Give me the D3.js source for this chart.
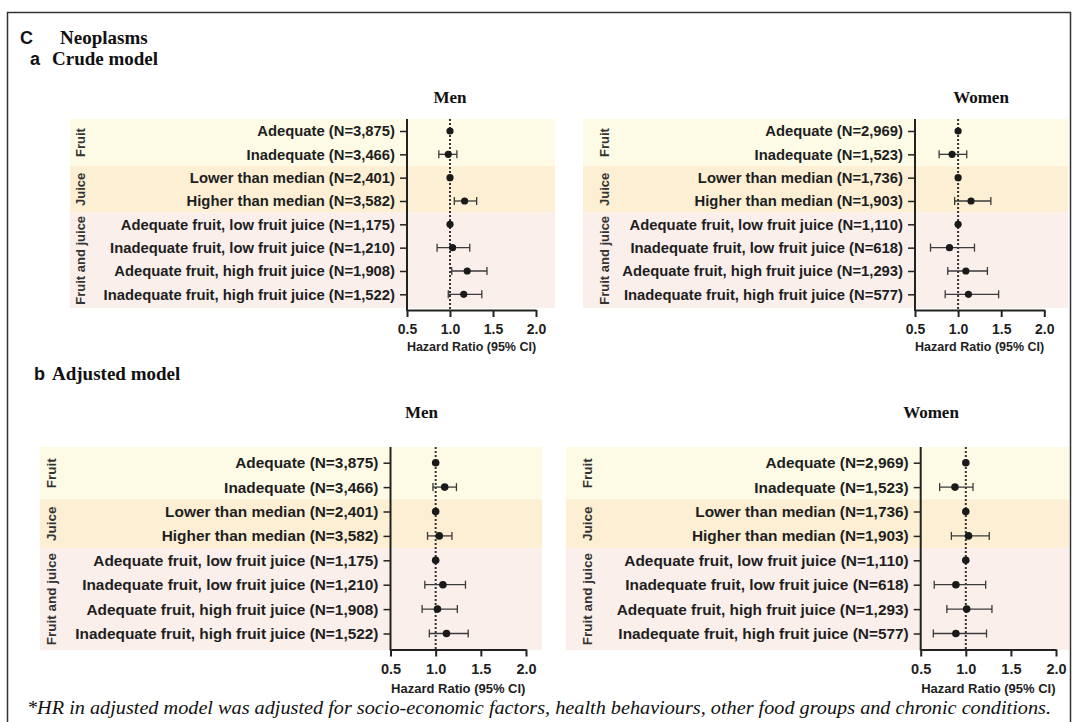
<!DOCTYPE html>
<html>
<head>
<meta charset="utf-8">
<script src="https://cdn.jsdelivr.net/npm/d3@7"></script>
<style>
  body { margin: 0; background: #fff; }
  svg { display: block; }
</style>
</head>
<body>
<svg id="chart" width="1078" height="722"></svg>
<script>
// ---- data ----
const groupNames = ["Fruit", "Juice", "Fruit and juice"];
const rowGroup = [0, 0, 1, 1, 2, 2, 2, 2];
const rowNames = [
  "Adequate", "Inadequate",
  "Lower than median", "Higher than median",
  "Adequate fruit, low fruit juice", "Inadequate fruit, low fruit juice",
  "Adequate fruit, high fruit juice", "Inadequate fruit, high fruit juice"
];
const menN = ["3,875", "3,466", "2,401", "3,582", "1,175", "1,210", "1,908", "1,522"];
const womenN = ["2,969", "1,523", "1,736", "1,903", "1,110", "618", "1,293", "577"];
const hrTicks = [0.5, 1.0, 1.5, 2.0];

// crude model: hazard ratio and 95% CI (null = reference group)
const crudeMenHR   = [1.00, 0.98, 1.00, 1.17, 1.00, 1.03, 1.20, 1.16];
const crudeMenLow  = [null, 0.87, null, 1.05, null, 0.85, 1.02, 0.98];
const crudeMenHigh = [null, 1.08, null, 1.31, null, 1.23, 1.43, 1.37];
const crudeWomenHR   = [1.00, 0.93, 1.00, 1.15, 1.00, 0.90, 1.09, 1.12];
const crudeWomenLow  = [null, 0.78, null, 0.96, null, 0.68, 0.88, 0.85];
const crudeWomenHigh = [null, 1.10, null, 1.38, null, 1.19, 1.34, 1.47];

// adjusted model
const adjMenHR   = [1.00, 1.10, 1.00, 1.04, 1.00, 1.08, 1.02, 1.12];
const adjMenLow  = [null, 0.97, null, 0.91, null, 0.88, 0.85, 0.93];
const adjMenHigh = [null, 1.23, null, 1.18, null, 1.33, 1.24, 1.36];
const adjWomenHR   = [1.00, 0.88, 1.00, 1.03, 1.00, 0.89, 1.01, 0.89];
const adjWomenLow  = [null, 0.71, null, 0.84, null, 0.65, 0.79, 0.64];
const adjWomenHigh = [null, 1.08, null, 1.26, null, 1.22, 1.29, 1.23];

// ---- styling ----
const bandColors = ["#fdfbe6", "#fcefd4", "#fbefeb"];
const SANS = "'Liberation Sans', Arial, sans-serif";
const SERIF = "'Liberation Serif', 'Times New Roman', serif";
const INK = "#222";

const svg = d3.select("#chart");

// outer frame
svg.append("rect")
  .attr("x", 7.5).attr("y", 12.5)
  .attr("width", 1063).attr("height", 720)
  .attr("fill", "none").attr("stroke", "#333").attr("stroke-width", 1.5);

// headings: sans letter followed by serif caption
function heading(xLetter, xText, y, letter, text, size) {
  svg.append("text").attr("x", xLetter).attr("y", y)
    .attr("font-family", SANS).attr("font-weight", "bold")
    .attr("font-size", size - 1).attr("fill", "#111").text(letter);
  svg.append("text").attr("x", xText).attr("y", y)
    .attr("font-family", SERIF).attr("font-weight", "bold")
    .attr("font-size", size).attr("fill", "#111").text(text);
}
heading(20, 60, 43.5, "C", "Neoplasms", 19);
heading(30, 52, 65, "a", "Crude model", 19);
heading(34, 52, 380, "b", "Adjusted model", 19);

// one forest plot panel
function drawPanel(cfg, hr, low, high, nVals) {
  const g = svg.append("g");
  const rows = d3.range(rowNames.length);
  const x = d3.scaleLinear().domain([0.5, 2.0]).range([cfg.x0, cfg.x1]);
  const y = d3.scalePoint().domain(rows).range([cfg.y0, cfg.y0 + cfg.step * (rows.length - 1)]);

  // group bands
  const groups = d3.range(groupNames.length).map(k => {
    const idx = rows.filter(i => rowGroup[i] === k);
    const first = idx[0], last = idx[idx.length - 1];
    const top = first === 0 ? cfg.bandTop : y(first) - cfg.step / 2;
    const bottom = last === rows.length - 1 ? cfg.bandBottom : y(last) + cfg.step / 2;
    return { k, top, bottom };
  });
  g.selectAll("rect.band").data(groups).join("rect")
    .attr("class", "band")
    .attr("x", cfg.bandL).attr("width", cfg.bandR - cfg.bandL)
    .attr("y", d => d.top).attr("height", d => d.bottom - d.top)
    .attr("fill", d => bandColors[d.k]);

  // rotated group names
  g.selectAll("text.grp").data(groups).join("text")
    .attr("class", "grp")
    .attr("transform", d => `translate(${cfg.groupX},${(d.top + d.bottom) / 2}) rotate(-90)`)
    .attr("text-anchor", "middle").attr("dy", "0.35em")
    .attr("font-family", SANS).attr("font-weight", "bold")
    .attr("font-size", cfg.groupFs).attr("fill", "#333")
    .text(d => groupNames[d.k]);

  // panel title
  g.append("text").attr("x", cfg.titleX).attr("y", cfg.titleY)
    .attr("text-anchor", "middle")
    .attr("font-family", SERIF).attr("font-weight", "bold")
    .attr("font-size", 17).attr("fill", "#111")
    .text(cfg.title);

  // row axis
  const yAxis = d3.axisLeft(y)
    .tickSize(cfg.tick).tickSizeOuter(0).tickPadding(5)
    .tickFormat(i => `${rowNames[i]} (N=${nVals[i]})`);
  const ya = g.append("g").attr("transform", `translate(${cfg.x0},0)`).call(yAxis);
  ya.select(".domain").remove();
  ya.selectAll(".tick line").attr("stroke", INK).attr("stroke-width", 1.5);
  ya.selectAll(".tick text")
    .attr("font-family", SANS).attr("font-weight", "bold")
    .attr("font-size", cfg.fs).attr("fill", "#1e1e1e");
  g.append("line")
    .attr("x1", cfg.x0).attr("x2", cfg.x0)
    .attr("y1", cfg.bandTop).attr("y2", cfg.axisY + 1)
    .attr("stroke", INK).attr("stroke-width", 2);

  // HR axis
  const xAxis = d3.axisBottom(x).tickValues(hrTicks)
    .tickFormat(d3.format(".1f")).tickSize(cfg.tick).tickSizeOuter(0).tickPadding(7);
  const xa = g.append("g").attr("transform", `translate(0,${cfg.axisY})`).call(xAxis);
  xa.select(".domain").attr("stroke", INK).attr("stroke-width", 2);
  xa.selectAll(".tick line").attr("stroke", INK).attr("stroke-width", 2);
  xa.selectAll(".tick text")
    .attr("font-family", SANS).attr("font-weight", "bold")
    .attr("font-size", cfg.tickFs).attr("fill", "#1e1e1e");
  g.append("text")
    .attr("x", (cfg.x0 + cfg.x1) / 2).attr("y", cfg.axisY + cfg.labelDy)
    .attr("text-anchor", "middle")
    .attr("font-family", SANS).attr("font-weight", "bold")
    .attr("font-size", cfg.labelFs).attr("fill", "#1e1e1e")
    .text("Hazard Ratio (95% CI)");

  // reference line at HR = 1
  g.append("line")
    .attr("x1", x(1)).attr("x2", x(1))
    .attr("y1", cfg.bandTop).attr("y2", cfg.axisY)
    .attr("stroke", "#333").attr("stroke-width", 2)
    .attr("stroke-dasharray", "2,2");

  // confidence intervals
  const ci = rows.filter(i => low[i] != null);
  const eb = g.selectAll("g.ci").data(ci).join("g").attr("class", "ci")
    .attr("stroke", "#3a3a3a").attr("stroke-width", 1.3);
  eb.append("line")
    .attr("x1", i => x(low[i])).attr("x2", i => x(high[i]))
    .attr("y1", i => y(i)).attr("y2", i => y(i));
  eb.append("line")
    .attr("x1", i => x(low[i])).attr("x2", i => x(low[i]))
    .attr("y1", i => y(i) - cfg.cap).attr("y2", i => y(i) + cfg.cap);
  eb.append("line")
    .attr("x1", i => x(high[i])).attr("x2", i => x(high[i]))
    .attr("y1", i => y(i) - cfg.cap).attr("y2", i => y(i) + cfg.cap);

  // point estimates
  g.selectAll("circle.hr").data(rows).join("circle")
    .attr("class", "hr")
    .attr("cx", i => x(hr[i])).attr("cy", i => y(i))
    .attr("r", cfg.r).attr("fill", "#1a1a1a");
}

const crudeBase = { y0: 131, step: 23.33, bandTop: 119, bandBottom: 308, axisY: 310,
  fs: 14.8, tickFs: 14, labelFs: 12.5, groupFs: 13, tick: 7, cap: 4, r: 3.6, labelDy: 41, titleY: 103 };
const adjBase = { y0: 462.7, step: 24.4, bandTop: 447, bandBottom: 650, axisY: 649.5,
  fs: 15.4, tickFs: 14.5, labelFs: 13, groupFs: 13.5, tick: 7, cap: 4, r: 3.8, labelDy: 43, titleY: 417.5 };

drawPanel(Object.assign({}, crudeBase, { x0: 407, x1: 536, bandL: 70, bandR: 555, groupX: 80.5,
  title: "Men", titleX: 450 }), crudeMenHR, crudeMenLow, crudeMenHigh, menN);
drawPanel(Object.assign({}, crudeBase, { x0: 915, x1: 1044.3, bandL: 583, bandR: 1068, groupX: 604,
  title: "Women", titleX: 981 }), crudeWomenHR, crudeWomenLow, crudeWomenHigh, womenN);
drawPanel(Object.assign({}, adjBase, { x0: 390.5, x1: 526, bandL: 40, bandR: 542, groupX: 51,
  title: "Men", titleX: 421.5 }), adjMenHR, adjMenLow, adjMenHigh, menN);
drawPanel(Object.assign({}, adjBase, { x0: 920.7, x1: 1056, bandL: 566, bandR: 1069, groupX: 587,
  title: "Women", titleX: 931 }), adjWomenHR, adjWomenLow, adjWomenHigh, womenN);

// footnote
svg.append("text")
  .attr("x", 539).attr("y", 714)
  .attr("text-anchor", "middle")
  .attr("font-family", SERIF).attr("font-style", "italic")
  .attr("font-size", 18).attr("fill", "#111")
  .attr("textLength", 1024).attr("lengthAdjust", "spacingAndGlyphs")
  .text("*HR in adjusted model was adjusted for socio-economic factors, health behaviours, other food groups and chronic conditions.");
</script>
</body>
</html>
